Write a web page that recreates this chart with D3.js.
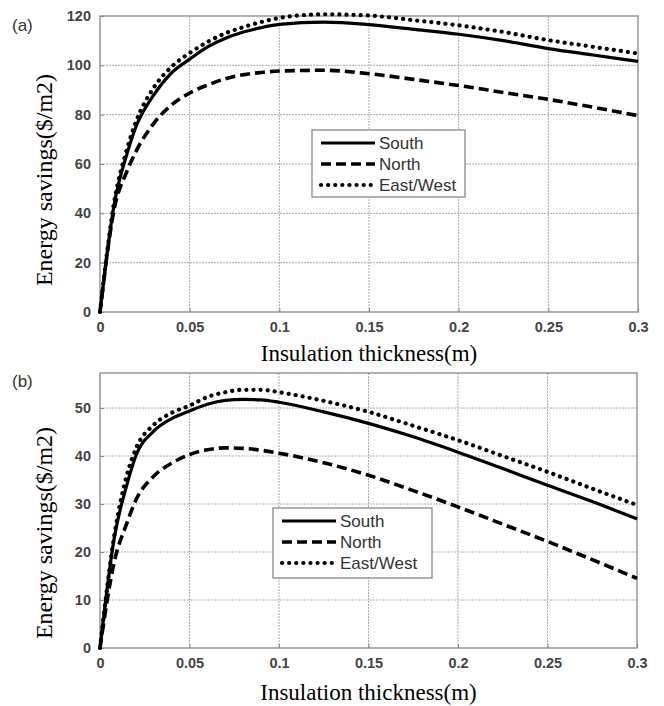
<!DOCTYPE html>
<html>
<head>
<meta charset="utf-8">
<script src="https://cdn.jsdelivr.net/npm/d3@7"></script>
<style>
  body { margin: 0; background: #fff; }
  svg { display: block; }
</style>
</head>
<body>
<div class="container"></div>
<script>
// thickness values (m)
var thickness = [0, 0.008, 0.015, 0.02, 0.03, 0.04, 0.05, 0.06, 0.07, 0.08, 0.09, 0.1,
                 0.125, 0.15, 0.175, 0.2, 0.225, 0.25, 0.275, 0.3];

// panel (a)
var southA = [0, 44, 64, 75, 88, 97, 102.5, 107.5, 111, 113.5, 115.3, 116.6,
              117.5, 116.5, 114.6, 112.6, 110, 106.8, 104.2, 101.6];
var northA = [0, 42, 57, 65, 76.5, 84, 88.8, 92, 94.6, 96.2, 97.1, 97.7,
              98, 96.6, 94.3, 91.8, 89, 86.2, 83, 79.6];
var eastWestA = [0, 45, 66, 77, 91, 99.5, 105, 109.5, 113, 115.5, 117.6, 119.2,
                 120.7, 120.2, 118.3, 116.2, 113.5, 110.2, 107.5, 104.8];

// panel (b)
var southB = [0, 23, 34, 40, 45.2, 47.8, 49.4, 50.8, 51.6, 51.8, 51.7, 51.2,
              49.2, 46.8, 44, 40.8, 37.4, 33.9, 30.5, 26.9];
var northB = [0, 18, 26, 30.8, 35.8, 38.5, 40.3, 41.3, 41.7, 41.6, 41.2, 40.6,
              38.6, 36, 32.8, 29.4, 25.8, 22.2, 18.4, 14.5];
var eastWestB = [0, 23.5, 36, 41.5, 46.5, 49, 50.5, 52.3, 53.3, 53.8, 53.8, 53.3,
                 51.5, 49.2, 46.3, 43.3, 40, 36.7, 33.2, 29.8];

var seriesNames = ["South", "North", "East/West"];
var xTicks = [0, 0.05, 0.1, 0.15, 0.2, 0.25, 0.3];
var xTickLabels = ["0", "0.05", "0.1", "0.15", "0.2", "0.25", "0.3"];
var yTicksA = [0, 20, 40, 60, 80, 100, 120];
var yTicksB = [0, 10, 20, 30, 40, 50];

var w = 664, h = 706;

var svg = d3.select(".container")
    .append("svg")
    .attr("width", w)
    .attr("height", h);

var styles = [
    {dash: null, width: 3.2, cap: "butt"},
    {dash: "10,5", width: 3.6, cap: "butt"},
    {dash: "0.1,7", width: 4.2, cap: "round"}
];

function panel(opt) {
    var x = d3.scaleLinear().domain([0, 0.3]).range([opt.left, opt.right]);
    var y = d3.scaleLinear().domain([0, opt.ymax]).range([opt.bottom, opt.top]);
    var g = svg.append("g");

    // grid
    g.selectAll(".vgrid")
        .data(xTicks.slice(1, -1))
        .enter().append("line")
        .attr("x1", function(d) { return x(d); })
        .attr("x2", function(d) { return x(d); })
        .attr("y1", opt.top).attr("y2", opt.bottom)
        .attr("stroke", "#aaa").attr("stroke-width", 1)
        .attr("stroke-dasharray", "2,1");
    g.selectAll(".hgrid")
        .data(opt.yTicks.filter(function(d) { return d > 0 && y(d) > opt.top + 1; }))
        .enter().append("line")
        .attr("x1", opt.left).attr("x2", opt.right)
        .attr("y1", function(d) { return y(d); })
        .attr("y2", function(d) { return y(d); })
        .attr("stroke", "#aaa").attr("stroke-width", 1)
        .attr("stroke-dasharray", "2,1");

    // frame
    g.append("rect")
        .attr("x", opt.left).attr("y", opt.top)
        .attr("width", opt.right - opt.left).attr("height", opt.bottom - opt.top)
        .attr("fill", "none").attr("stroke", "#888").attr("stroke-width", 1.3);

    // axes
    var xAxis = d3.axisBottom(x).tickValues(xTicks)
        .tickFormat(function(d, i) { return xTickLabels[i]; })
        .tickSize(-4).tickPadding(10);
    var yAxis = d3.axisLeft(y).tickValues(opt.yTicks).tickSize(-4).tickPadding(9);

    var xg = g.append("g").attr("transform", "translate(0," + opt.bottom + ")").call(xAxis);
    var yg = g.append("g").attr("transform", "translate(" + opt.left + ",0)").call(yAxis);
    [xg, yg].forEach(function(a) {
        a.select(".domain").remove();
        a.selectAll("line").attr("stroke", "#888");
        a.selectAll("text")
            .attr("font-family", "Liberation Sans, Arial, sans-serif")
            .attr("font-size", "14.5px")
            .attr("font-weight", "bold")
            .attr("fill", "#444");
    });

    // curves
    var line = d3.line()
        .x(function(d, i) { return x(thickness[i]); })
        .y(function(d) { return y(d); })
        .curve(d3.curveMonotoneX);

    g.selectAll(".curve")
        .data(opt.series)
        .enter().append("path")
        .attr("d", function(d) { return line(d); })
        .attr("fill", "none")
        .attr("stroke", "#000")
        .attr("stroke-width", function(d, i) { return styles[i].width; })
        .attr("stroke-dasharray", function(d, i) { return styles[i].dash; })
        .attr("stroke-linecap", function(d, i) { return styles[i].cap; });

    // legend
    var lg = g.append("g").attr("transform", "translate(" + opt.legX + "," + opt.legY + ")");
    lg.append("rect")
        .attr("width", opt.legW).attr("height", opt.legH)
        .attr("fill", "#fff").attr("stroke", "#888").attr("stroke-width", 1.3);
    seriesNames.forEach(function(name, i) {
        var ry = 13 + i * 21;
        lg.append("line")
            .attr("x1", 9).attr("x2", 63)
            .attr("y1", ry).attr("y2", ry)
            .attr("stroke", "#000")
            .attr("stroke-width", styles[i].width)
            .attr("stroke-dasharray", styles[i].dash)
            .attr("stroke-linecap", styles[i].cap);
        lg.append("text")
            .attr("x", 67).attr("y", ry + 6)
            .attr("font-family", "Liberation Sans, Arial, sans-serif")
            .attr("font-size", "17px")
            .attr("fill", "#333")
            .text(name);
    });

    // labels
    g.append("text")
        .attr("text-anchor", "middle")
        .attr("font-family", "Liberation Serif, Times New Roman, serif")
        .attr("font-size", "23px")
        .attr("transform", "translate(" + ((opt.left + opt.right) / 2) + "," + opt.xLabelY + ")")
        .text("Insulation thickness(m)");
    g.append("text")
        .attr("text-anchor", "middle")
        .attr("font-family", "Liberation Serif, Times New Roman, serif")
        .attr("font-size", "24px")
        .attr("transform", "translate(52," + opt.yLabelY + ")rotate(-90)")
        .text("Energy savings($/m2)");
    g.append("text")
        .attr("x", 12).attr("y", opt.tagY)
        .attr("font-family", "Liberation Sans, Arial, sans-serif")
        .attr("font-size", "17px")
        .attr("fill", "#333")
        .text(opt.tag);
}

panel({
    left: 100, right: 638, top: 16, bottom: 312, ymax: 120,
    yTicks: yTicksA, series: [southA, northA, eastWestA],
    legX: 312, legY: 130, legW: 153, legH: 67,
    xLabelY: 361, yLabelY: 180, tag: "(a)", tagY: 31
});

panel({
    left: 100, right: 637, top: 373, bottom: 648, ymax: 57.3,
    yTicks: yTicksB, series: [southB, northB, eastWestB],
    legX: 273, legY: 508, legW: 159, legH: 70,
    xLabelY: 700, yLabelY: 533, tag: "(b)", tagY: 387
});
</script>
</body>
</html>
